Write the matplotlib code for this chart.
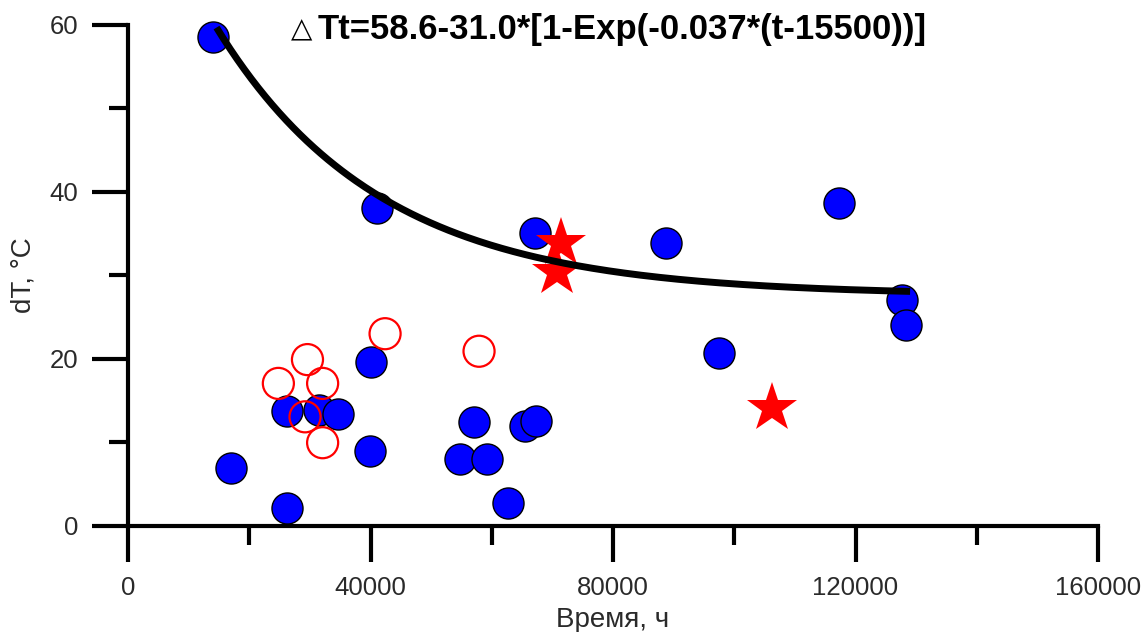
import numpy as np
import matplotlib.pyplot as plt
from matplotlib.ticker import MultipleLocator

plt.rcParams['font.family'] = ['Liberation Sans', 'DejaVu Sans']

# синие точки (заполненные)
blue_t = [14000, 17000, 26300, 31500, 34600, 40100, 39900, 26200, 57100, 54800,
          59200, 62600, 65400, 67300, 41100, 67100, 88700, 97500, 117300, 127600, 128400]
blue_dT = [58.5, 6.9, 13.7, 13.9, 13.4, 19.6, 9.0, 2.1, 12.4, 7.95,
           7.95, 2.7, 11.9, 12.6, 38.1, 35.0, 33.9, 20.7, 38.7, 27.0, 24.1]

# красные пустые кружки
open_t = [24800, 29600, 32100, 29200, 32100, 42400, 57900]
open_dT = [17.05, 19.9, 17.05, 13.05, 9.95, 23.0, 20.9]

# красные звёзды
star_t = [71400, 70700, 106200]
star_dT = [33.8, 30.4, 14.05]

# аппроксимация
A, B, k, t0 = 58.6, 31.0, 0.037, 15500
t_fit = np.linspace(14600, 129000, 300)
dT_fit = A - B * (1 - np.exp(-k * (t_fit - t0) / 1000))

fig = plt.figure(figsize=(11.45, 6.32), dpi=100)
ax = fig.add_axes([0.1118, 0.168, 0.8472, 0.793])

ax.scatter(blue_t, blue_dT, s=500, c='#0000ff', edgecolors='black', linewidths=1.0,
           zorder=3, clip_on=False)
ax.scatter(open_t, open_dT, s=500, facecolors='none', edgecolors='#ff0000', linewidths=1.6,
           zorder=4, clip_on=False)
ax.plot(star_t, star_dT, linestyle='none', marker='*', markersize=38, color='#ff0000',
        markeredgewidth=0, zorder=5)
ax.plot(t_fit, dT_fit, color='black', linewidth=5, solid_capstyle='butt', zorder=6)

ax.set_xlim(0, 160000)
ax.set_ylim(0, 60)
ax.xaxis.set_major_locator(MultipleLocator(40000))
ax.xaxis.set_minor_locator(MultipleLocator(20000))
ax.yaxis.set_major_locator(MultipleLocator(20))
ax.yaxis.set_minor_locator(MultipleLocator(10))

for s in ['top', 'right']:
    ax.spines[s].set_visible(False)
for s in ['left', 'bottom']:
    ax.spines[s].set_linewidth(3)
ax.tick_params(which='major', direction='out', length=26, width=3, labelsize=18.5,
               labelcolor='#2a2a2a', pad=10)
ax.tick_params(which='minor', direction='out', length=14, width=3)

ax.set_xlabel('Время, ч', fontsize=20, color='#2a2a2a', labelpad=5)
ax.set_ylabel('dT, °C', fontsize=20, color='#2a2a2a', labelpad=9)

ax.text(0.168, 0.99, '△', transform=ax.transAxes, fontsize=20, family='DejaVu Sans',
        ha='left', va='center')
ax.text(0.1955, 0.99, 'Tt=58.6-31.0*[1-Exp(-0.037*(t-15500))]', transform=ax.transAxes,
        fontsize=25, fontweight='bold', ha='left', va='center')

fig.savefig('out.png', dpi=100)
